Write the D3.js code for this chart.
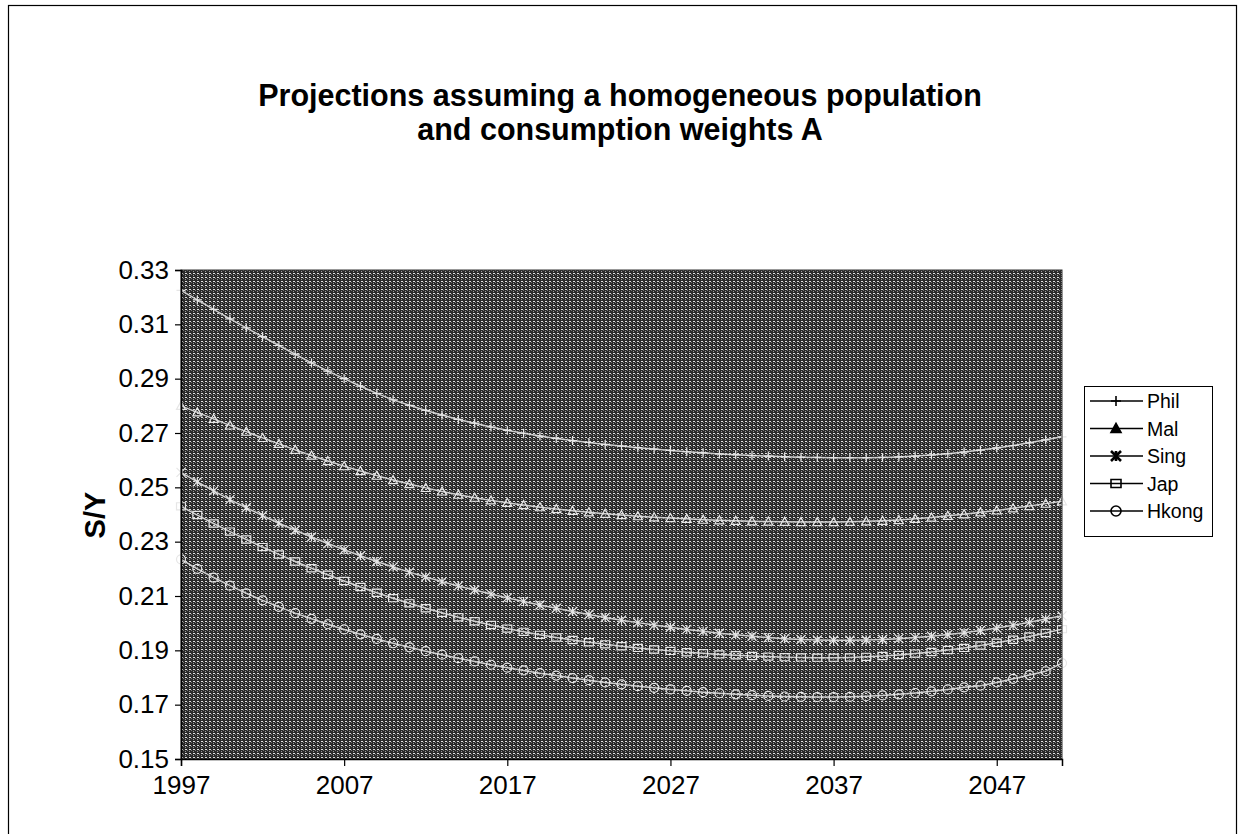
<!DOCTYPE html>
<html><head><meta charset="utf-8">
<script src="https://cdn.jsdelivr.net/npm/d3@7"></script>
<style>html,body{margin:0;padding:0;background:#fff;}svg{display:block;}</style>
</head><body>
<svg id="chart" width="1244" height="834"></svg>
<script>
const titleLines = ["Projections assuming a homogeneous population", "and consumption weights A"];
const yAxisLabel = "S/Y";
const years = d3.range(1997, 2052);
const xTickYears = [1997, 2007, 2017, 2027, 2037, 2047];
const yTicks = [0.15, 0.17, 0.19, 0.21, 0.23, 0.25, 0.27, 0.29, 0.31, 0.33];
const seriesNames = ["Phil", "Mal", "Sing", "Jap", "Hkong"];
const phil = [.3225,.3190,.3155,.3120,.3087,.3055,.3022,.2990,.2958,.2928,.2900,.2872,.2846,.2822,.2802,.2783,.2766,.2750,.2736,.2722,.2710,.2699,.2689,.2680,.2672,.2665,.2658,.2652,.2646,.2641,.2636,.2631,.2627,.2623,.2620,.2617,.2615,.2613,.2611,.2610,.2609,.2609,.2609,.2610,.2612,.2615,.2619,.2624,.2630,.2637,.2645,.2654,.2664,.2675,.2686];
const mal = [.2800,.2776,.2752,.2728,.2705,.2682,.2660,.2638,.2617,.2597,.2578,.2560,.2543,.2527,.2512,.2498,.2485,.2473,.2462,.2452,.2443,.2435,.2427,.2420,.2414,.2408,.2403,.2398,.2394,.2390,.2387,.2384,.2381,.2379,.2377,.2375,.2374,.2373,.2372,.2372,.2372,.2373,.2375,.2377,.2380,.2384,.2389,.2395,.2401,.2408,.2415,.2423,.2431,.2440,.2449];
const sing = [.2555,.2520,.2487,.2455,.2425,.2396,.2368,.2342,.2317,.2293,.2270,.2248,.2227,.2207,.2188,.2170,.2153,.2137,.2122,.2107,.2093,.2080,.2067,.2055,.2043,.2032,.2021,.2011,.2002,.1993,.1985,.1977,.1970,.1963,.1957,.1952,.1947,.1943,.1940,.1938,.1937,.1937,.1938,.1940,.1943,.1947,.1952,.1958,.1965,.1973,.1982,.1992,.2003,.2015,.2027];
const jap = [.2430,.2398,.2367,.2337,.2308,.2280,.2253,.2227,.2202,.2178,.2155,.2133,.2112,.2092,.2073,.2055,.2038,.2022,.2007,.1993,.1980,.1968,.1957,.1947,.1938,.1930,.1922,.1915,.1909,.1903,.1898,.1893,.1889,.1885,.1882,.1879,.1877,.1875,.1874,.1873,.1873,.1874,.1876,.1879,.1883,.1888,.1894,.1901,.1909,.1918,.1928,.1939,.1951,.1964,.1978];
const hkong = [.2235,.2200,.2168,.2138,.2110,.2084,.2060,.2037,.2016,.1996,.1977,.1959,.1942,.1926,.1911,.1897,.1884,.1871,.1859,.1847,.1836,.1826,.1816,.1807,.1798,.1790,.1782,.1775,.1768,.1762,.1756,.1751,.1746,.1742,.1738,.1735,.1732,.1730,.1729,.1728,.1728,.1729,.1731,.1734,.1738,.1743,.1749,.1756,.1764,.1770,.1782,.1795,.1809,.1823,.1853];
const seriesValues = [phil, mal, sing, jap, hkong];
const markerTypes = ["plus", "triangle", "asterisk", "square", "circle"];

const FONT = "'Liberation Sans', Arial, sans-serif";
const svg = d3.select("#chart");

// outer frame
svg.append("rect").attr("x", 8.5).attr("y", 5.5).attr("width", 1228).attr("height", 840)
  .attr("fill", "none").attr("stroke", "#000").attr("stroke-width", 1.2);

// title
svg.selectAll("text.title").data(titleLines).join("text")
  .attr("class", "title")
  .attr("x", 620).attr("y", (d, i) => 106 + i * 34)
  .attr("text-anchor", "middle")
  .attr("font-family", FONT).attr("font-weight", "bold").attr("font-size", 30.5)
  .text(d => d);

const plot = {left: 181, right: 1062, top: 270, bottom: 759};
const x = d3.scaleLinear().domain([1997, 2051]).range([plot.left, plot.right]);
const y = d3.scaleLinear().domain([0.15, 0.33]).range([plot.bottom, plot.top]);

// dithered dark plot background
const defs = svg.append("defs");
const pat = defs.append("pattern").attr("id", "dither").attr("patternUnits", "userSpaceOnUse")
  .attr("width", 4).attr("height", 4);
pat.append("rect").attr("width", 4).attr("height", 4).attr("fill", "#2a2a2a");
pat.append("rect").attr("x", 1).attr("y", 1).attr("width", 2).attr("height", 1).attr("fill", "#e0e0e0");
pat.append("rect").attr("x", 1).attr("y", 3).attr("width", 1).attr("height", 1).attr("fill", "#9a9a9a");
pat.append("rect").attr("x", 3).attr("y", 2).attr("width", 1).attr("height", 1).attr("fill", "#7a7a7a");

svg.append("rect").attr("x", plot.left).attr("y", plot.top)
  .attr("width", plot.right - plot.left).attr("height", plot.bottom - plot.top)
  .attr("fill", "url(#dither)");

// series lines
const line = d3.line().x((d, i) => x(years[i])).y(d => y(d));
const gSeries = svg.append("g");
seriesValues.forEach((vals, si) => {
  gSeries.append("path").datum(vals).attr("d", line)
    .attr("fill", "none").attr("stroke", "#cfcfcf").attr("stroke-width", 1.5);
});

function markerPath(type, s) {
  const h = s / 2;
  switch (type) {
    case "plus": return `M0,${-h}V${h}M${-h},0H${h}`;
    case "asterisk": return `M${-h},${-h}L${h},${h}M${-h},${h}L${h},${-h}M0,${-h}V${h}`;
    case "triangle": return `M0,${-h}L${h},${h * 0.8}L${-h},${h * 0.8}Z`;
    case "square": return `M${-h},${-h * 0.8}H${h}V${h * 0.8}H${-h}Z`;
    case "circle": return `M${h},0A${h},${h} 0 1,1 ${-h},0A${h},${h} 0 1,1 ${h},0Z`;
  }
}

seriesValues.forEach((vals, si) => {
  gSeries.append("g").selectAll("path").data(vals).join("path")
    .attr("transform", (d, i) => `translate(${x(years[i])},${y(d)})`)
    .attr("d", markerPath(markerTypes[si], 9))
    .attr("fill", "none").attr("stroke", "#e6e6e6").attr("stroke-width", 1.2);
});

// plot border
svg.append("rect").attr("x", plot.left).attr("y", plot.top)
  .attr("width", plot.right - plot.left).attr("height", plot.bottom - plot.top)
  .attr("fill", "none").attr("stroke", "#333").attr("stroke-width", 1);

// axes
const yAxis = d3.axisLeft(y).tickValues(yTicks).tickFormat(d3.format(".2f")).tickSize(6).tickPadding(6);
const gy = svg.append("g").attr("transform", `translate(${plot.left},0)`).call(yAxis);
gy.select(".domain").attr("stroke", "#000").attr("stroke-width", 1.5);
gy.selectAll(".tick line").attr("stroke", "#000").attr("stroke-width", 1.2);
gy.selectAll(".tick text").attr("font-family", FONT).attr("font-size", 26).attr("fill", "#000");

const xAxis = d3.axisBottom(x).tickValues(xTickYears).tickFormat(d3.format("d")).tickSize(7).tickPadding(10);
const gx = svg.append("g").attr("transform", `translate(0,${plot.bottom})`).call(xAxis);
gx.select(".domain").attr("stroke", "#000").attr("stroke-width", 1.5);
gx.selectAll(".tick line").attr("stroke", "#000").attr("stroke-width", 1.2);
gx.selectAll(".tick text").attr("font-family", FONT).attr("font-size", 26).attr("fill", "#000");

// y axis title
svg.append("text").attr("transform", "translate(105,515) rotate(-90)")
  .attr("text-anchor", "middle")
  .attr("font-family", FONT).attr("font-weight", "bold").attr("font-size", 29)
  .text(yAxisLabel);

// legend
const lg = svg.append("g");
lg.append("rect").attr("x", 1084.5).attr("y", 386.5).attr("width", 128).attr("height", 150)
  .attr("fill", "#fff").attr("stroke", "#000").attr("stroke-width", 1);
seriesNames.forEach((name, i) => {
  const cy = 401 + i * 27.5;
  lg.append("line").attr("x1", 1090).attr("x2", 1143).attr("y1", cy).attr("y2", cy)
    .attr("stroke", "#000").attr("stroke-width", 1.6);
  lg.append("path").attr("transform", `translate(1116,${cy})`)
    .attr("d", markerPath(markerTypes[i], 10))
    .attr("fill", markerTypes[i] === "triangle" ? "#000" : "none")
    .attr("stroke", "#000").attr("stroke-width", markerTypes[i] === "asterisk" ? 2.6 : 1.6);
  lg.append("text").attr("x", 1147).attr("y", cy).attr("dy", "0.36em")
    .attr("font-family", FONT).attr("font-size", 19.5).text(name);
});
</script>
</body></html>
